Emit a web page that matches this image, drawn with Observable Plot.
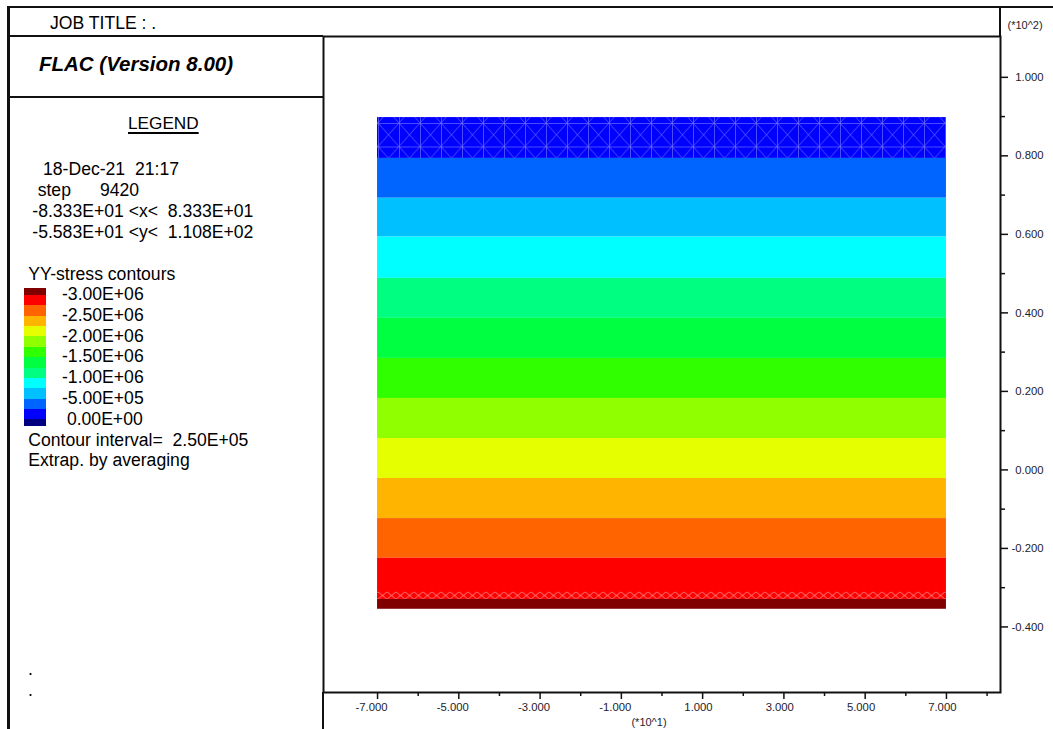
<!DOCTYPE html>
<html>
<head>
<meta charset="utf-8">
<script src="https://cdn.jsdelivr.net/npm/d3@7"></script>
<script src="https://cdn.jsdelivr.net/npm/@observablehq/plot@0.6"></script>
<style>
html,body{margin:0;padding:0;background:#fff;}
#wrap{position:relative;width:1053px;height:729px;overflow:hidden;font-family:"Liberation Sans",Arial,sans-serif;color:#000;}
#wrap svg{position:absolute;left:0;top:0;}
.ln{position:absolute;background:#111;}
.t{position:absolute;font-size:17.6px;line-height:17.6px;white-space:pre;color:#000;}
</style>
</head>
<body>
<div id="wrap"></div>
<script>
// ---------- data ----------
const jobTitle = "JOB TITLE : .";
const programTitle = "FLAC (Version 8.00)";
const infoLines = ["18-Dec-21  21:17", "-8.333E+01 <x<  8.333E+01", "-5.583E+01 <y<  1.108E+02"];
const stepLabel = "step";
const stepValue = "9420";
const contourTitle = "YY-stress contours";
const footerLines = ["Contour interval=  2.50E+05", "Extrap. by averaging"];
// contour palette, from most negative (top of legend) to positive
const stressPalette = ["#800000","#ff0000","#ff6400","#ffb400","#e6ff00","#90ff00","#30ff00","#00ff40","#00ff80","#00ffff","#00c0ff","#0064ff","#0000ff","#000080"];
const legendLabels = ["-3.00E+06","-2.50E+06","-2.00E+06","-1.50E+06","-1.00E+06","-5.00E+05"," 0.00E+00"];
// band boundaries (y, model units) from top to bottom
const bandEdges = [89.7, 79.4, 69.2, 59.3, 48.8, 38.6, 28.4, 18.2, 8.0, -2.2, -12.4, -22.5, -33.0, -35.5];
const modelX = [-70, 70];
const meshTop = [89.7, 79.4];
const meshBottom = [-31.2, -33.0];
const xDomain = [-83.3, 83.3];
const yDomain = [-56.7, 110.4];
const xMajor = [-70, -50, -30, -10, 10, 30, 50, 70];
const xMinor = [-60, -40, -20, 0, 20, 40, 60, 80];
const yMajor = [100, 80, 60, 40, 20, 0, -20, -40];
const yMinor = [90, 70, 50, 30, 10, -10, -30];
const xMultiplier = "(*10^1)";
const yMultiplier = "(*10^2)";

// ---------- table ----------
const bands = bandEdges.slice(0, -1).map((top, i) => ({
  top, bottom: bandEdges[i + 1], color: stressPalette[12 - i]
}));

const ink = "#1c1c2c";
const fmtX = d => (d / 10).toFixed(3);
const fmtY = d => (d / 100).toFixed(3);

const chart = Plot.plot({
  width: 1053,
  height: 729,
  marginLeft: 323,
  marginRight: 53,
  marginTop: 36,
  marginBottom: 37,
  x: {domain: xDomain, axis: null},
  y: {domain: yDomain, axis: null},
  color: {type: "identity"},
  style: {background: "transparent", fontFamily: "'Liberation Sans', Arial, sans-serif", fontSize: "11px", color: "#111"},
  marks: [
    Plot.rect(bands, {x1: () => modelX[0], x2: () => modelX[1], y1: "bottom", y2: "top", fill: "color"}),
    Plot.rect([meshTop], {x1: () => modelX[0], x2: () => modelX[1], y1: d => d[1], y2: d => d[0], fill: "url(#meshBlue)"}),
    Plot.rect([meshBottom], {x1: () => modelX[0], x2: () => modelX[1], y1: d => d[1], y2: d => d[0], fill: "url(#meshRed)"}),
    Plot.frame({stroke: "#111", strokeWidth: 2}),
    Plot.axisX(xMajor, {anchor: "bottom", tickSize: 7, tickFormat: () => "", label: null, strokeWidth: 1.5}),
    Plot.axisX(xMinor, {anchor: "bottom", tickSize: 4, tickFormat: () => "", label: null, strokeWidth: 1.5}),
    Plot.axisY(yMajor, {anchor: "right", tickSize: 7, tickFormat: () => "", label: null, strokeWidth: 1.5}),
    Plot.axisY(yMinor, {anchor: "right", tickSize: 4, tickFormat: () => "", label: null, strokeWidth: 1.5}),
    Plot.text(xMajor, {x: d => d, frameAnchor: "bottom", lineAnchor: "middle", text: fmtX, textAnchor: "end", dx: 10, dy: 15, fontSize: 11.3, fill: ink}),
    Plot.text(yMajor, {y: d => d, frameAnchor: "right", lineAnchor: "middle", text: fmtY, textAnchor: "end", dx: 43, fontSize: 11.3, fill: ink}),
    Plot.text([xMultiplier], {frameAnchor: "bottom", lineAnchor: "middle", text: d => d, dx: -13, dy: 30, fontSize: 11, fill: ink}),
    Plot.text([yMultiplier], {frameAnchor: "top-right", lineAnchor: "middle", text: d => d, textAnchor: "start", dx: 7, dy: -11, fontSize: 11, fill: ink})
  ]
});

// patterns for the FLAC mesh texture
d3.select(chart).insert("defs", ":first-child").html(`
  <pattern id="meshBlue" patternUnits="userSpaceOnUse" x="0" y="123" width="21" height="23.5">
    <rect width="21" height="23.5" fill="#0000ff"/>
    <path d="M0,0L21,23.5M21,0L0,23.5M0.5,0V23.5M0,0.5H21" stroke="#6a6aff" stroke-width="0.7" fill="none"/>
  </pattern>
  <pattern id="meshRed" patternUnits="userSpaceOnUse" x="0" y="591.7" width="9" height="7.6">
    <rect width="9" height="7.6" fill="#ff0000"/>
    <path d="M0,0L9,7.6M9,0L0,7.6" stroke="#ff8c8c" stroke-width="0.9" fill="none"/>
  </pattern>
`);

const wrap = document.getElementById("wrap");
wrap.appendChild(chart);

function line(l, t, w, h) {
  const d = document.createElement("div");
  d.className = "ln";
  Object.assign(d.style, {left: l + "px", top: t + "px", width: w + "px", height: h + "px"});
  wrap.appendChild(d);
}
function text(str, l, t, extra = {}) {
  const d = document.createElement("div");
  d.className = "t";
  d.textContent = str;
  Object.assign(d.style, {left: l + "px", top: t + "px"}, extra);
  wrap.appendChild(d);
  return d;
}

// frame lines
line(8, 6, 1045, 2);
line(7, 6, 2.5, 723);
line(8, 35, 315, 2);
line(999, 6, 2, 31);
line(322, 692, 2, 37);
line(8, 96, 315, 2);

// left panel text
text(jobTitle, 50, 14.7);
text(programTitle, 39, 54.2, {fontSize: "20.5px", lineHeight: "20.5px", fontWeight: "bold", fontStyle: "italic"});
text("LEGEND", 128, 115.1, {fontSize: "17.2px", textDecoration: "underline", textUnderlineOffset: "3px", textDecorationThickness: "1.5px"});
text(infoLines[0], 43, 161.1);
text(stepLabel, 37.7, 182.2);
text(stepValue, 100, 182.2);
text(infoLines[1], 32.3, 203.1);
text(infoLines[2], 32.3, 223.9);
text(contourTitle, 28.3, 265.6);

// legend swatches
const half = 6.7, full = 10.36;
let yy = 288.3;
stressPalette.forEach((c, i) => {
  const h = (i === 0 || i === stressPalette.length - 1) ? half : full;
  const d = document.createElement("div");
  Object.assign(d.style, {position: "absolute", left: "24px", top: yy + "px", width: "22px", height: (h + 0.3) + "px", background: c});
  wrap.appendChild(d);
  yy += h;
});
legendLabels.forEach((lab, i) => {
  text(lab, 62, 294.8 + i * 20.75 - 8.6);
});
text(footerLines[0], 28.3, 431.7);
text(footerLines[1], 28.3, 452.4);
text(".", 28, 661.3);
text(".", 28, 682.3);
</script>
</body>
</html>
